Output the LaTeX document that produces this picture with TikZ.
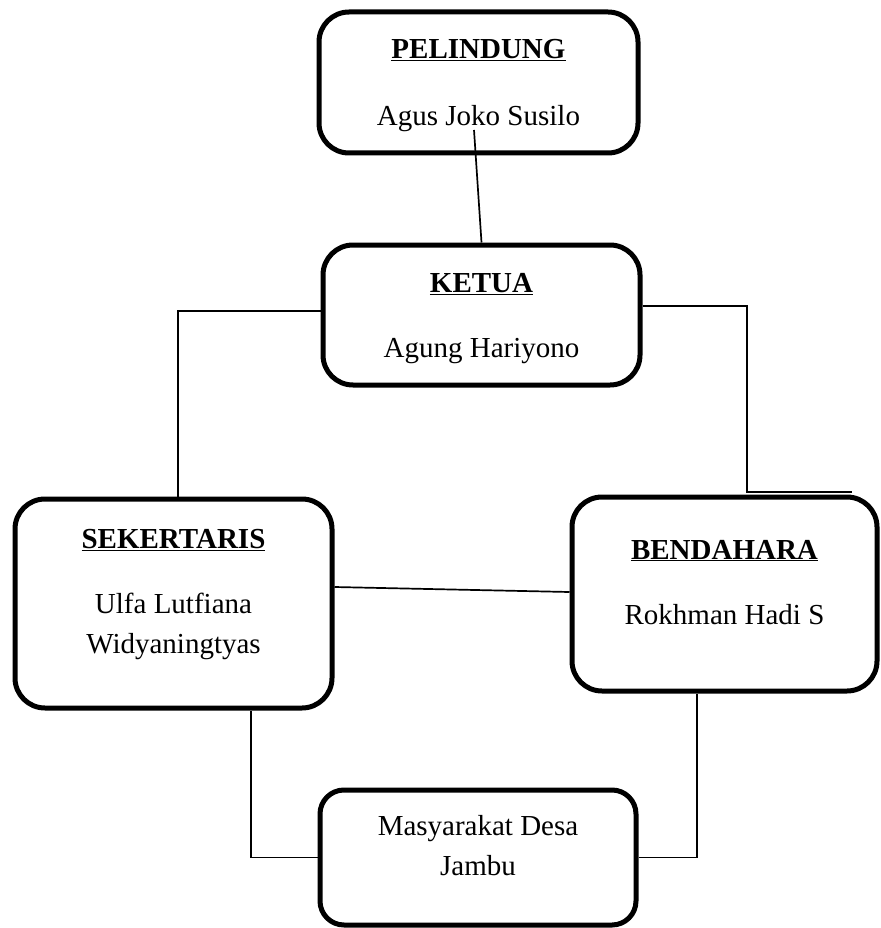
\documentclass[tikz,border=0pt]{standalone}
\usepackage{fontspec}
\setmainfont{Liberation Serif}
\begin{document}
\begin{tikzpicture}[
    x=1pt, y=-1pt,
    boxstyle/.style={rectangle, draw, line width=5pt, rounded corners=30pt,
        align=center, font=\fontsize{29}{40}\selectfont},
    linestyle/.style={draw, line width=1.7pt}
]
\useasboundingbox (0,0) rectangle (880,928);
\node (Pelindung) [boxstyle, minimum width=319pt, minimum height=141pt, text depth=0pt] at (478.5,82.5)
  {\underline{\textbf{PELINDUNG}}\\[27pt]Agus Joko Susilo};
\node (Ketua) [boxstyle, minimum width=317pt, minimum height=140pt, text depth=0pt] at (481.5,315)
  {\underline{\textbf{KETUA}}\\[25pt]Agung Hariyono};
\node (Sekertaris) [boxstyle, minimum width=317pt, minimum height=209pt, text depth=24pt] at (173.5,603.5)
  {\underline{\textbf{SEKERTARIS}}\\[25pt]Ulfa Lutfiana\\Widyaningtyas};
\node (Bendahara) [boxstyle, minimum width=305pt, minimum height=194pt, text depth=24pt] at (724.5,594)
  {\underline{\textbf{BENDAHARA}}\\[25pt]Rokhman Hadi S};
\node (Masyarakat) [boxstyle, minimum width=316pt, minimum height=135pt, rounded corners=24pt, text depth=24pt] at (478,857.5)
  {Masyarakat Desa\\Jambu};
\coordinate (P1) at (474,130);
\coordinate (B1) at (747,492);
\coordinate (B2) at (852,492);
\draw[linestyle] (P1) -- (Ketua.north);
\draw[linestyle] ([yshift=4pt]Ketua.west) -| ([xshift=4.5pt]Sekertaris.north);
\draw[linestyle] ([yshift=9pt]Ketua.east) -| (B1) -- (B2);
\draw[linestyle] ([yshift=16.5pt]Sekertaris.east) -- ([yshift=2pt]Bendahara.west);
\draw[linestyle] (Masyarakat.west) -| ([xshift=77.5pt]Sekertaris.south);
\draw[linestyle] (Masyarakat.east) -| ([xshift=-27.5pt]Bendahara.south);
\end{tikzpicture}
\end{document}
